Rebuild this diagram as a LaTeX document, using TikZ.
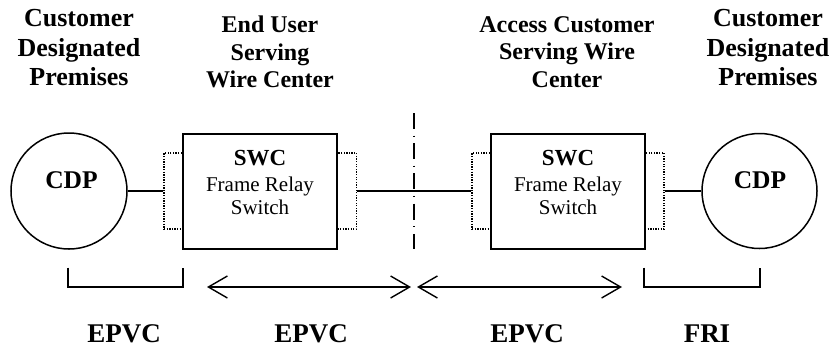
\documentclass[tikz,border=0pt]{standalone}
\usepackage{fontspec}
\setmainfont{Liberation Serif}
\usetikzlibrary{arrows.meta}
\newcommand\swcfont{\fontsize{23}{23.5}\selectfont\bfseries}
\begin{document}
\begin{tikzpicture}[x=1pt,y=-1pt,
  ln/.style={line width=1.5pt},
  circ/.style={circle,draw,line width=1.5pt,inner sep=0pt,minimum size=116pt},
  swbox/.style={rectangle,draw,line width=1.6pt,inner sep=0pt,minimum width=154pt,minimum height=115pt},
  port/.style={rectangle,draw,line width=1.1pt,dash pattern=on 1.3pt off 1.3pt,inner sep=0pt,minimum width=19pt,minimum height=76pt},
  dashdot/.style={line width=1.3pt,dash pattern=on 16pt off 6.5pt on 1.2pt off 6.5pt},
  brk/.style={line width=1.8pt},
  dbl/.style={line width=1.4pt,{Straight Barb[length=19pt,width=22pt]}-{Straight Barb[length=19pt,width=22pt]}},
  lab25/.style={inner sep=0pt,align=center,font=\fontsize{26}{29.5}\selectfont\bfseries},
  lab23/.style={inner sep=0pt,align=center,font=\fontsize{24}{27.5}\selectfont\bfseries},
  boxtxt/.style={inner sep=0pt,align=center,font=\fontsize{21}{23.5}\selectfont},
  cdptxt/.style={inner sep=0pt,font=\fontsize{25.5}{30}\selectfont\bfseries},
  bottxt/.style={inner sep=0pt,font=\fontsize{27}{30}\selectfont\bfseries}]
\useasboundingbox (0,0) rectangle (836,349);

% top labels
\node[lab25,anchor=north] (tCDPL) at (79,9.5) {Customer\\Designated\\Premises};
\node[lab23,anchor=north] (tEU) at (270,16) {End User\\Serving\\Wire Center};
\node[lab23,anchor=north] (tAC) at (567,16) {Access Customer\\Serving Wire\\Center};
\node[lab25,anchor=north] (tCDPR) at (768,9.5) {Customer\\Designated\\Premises};

% circles
\node[circ] (cdpL) at (69,191) {};
\node[circ,minimum size=115pt] (cdpR) at (759.5,191) {};
\node[cdptxt,anchor=base] (cdpLt) at (71.5,188) {CDP};
\node[cdptxt,anchor=base] (cdpRt) at (760,188) {CDP};

% ports
\node[port] (portLL) at (173.5,191) {};
\node[port] (portLR) at (347,191) {};
\node[port] (portRL) at (481.5,191) {};
\node[port] (portRR) at (654.5,191) {};

% switch boxes
\node[swbox] (swcL) at (260,191.5) {};
\node[swbox] (swcR) at (568,191.5) {};
\node[boxtxt,anchor=north] (swcLt) at (260,150.5) {{\swcfont SWC}\\[2pt]Frame Relay\\Switch};
\node[boxtxt,anchor=north] (swcRt) at (568,150.5) {{\swcfont SWC}\\[2pt]Frame Relay\\Switch};

% connectors
\draw[ln] (cdpL.east) -- (portLL.west);
\draw[ln] (portLR.east) -- (portRL.west);
\draw[ln] (portRR.east) -- (cdpR.west);

% demarcation
\coordinate (dtop) at (414,113);
\coordinate (dbot) at (414,249);
\draw[dashdot] (dtop) -- (dbot);

% brackets
\coordinate (bLa) at (68,267.5);
\coordinate (bLb) at (183,267.5);
\coordinate (bRa) at (644,267.5);
\coordinate (bRb) at (760,267.5);
\draw[brk] (bLa) -- ++(0,19.5) -| (bLb);
\draw[brk] (bRa) -- ++(0,19.5) -| (bRb);

% arrows
\coordinate (a1s) at (207,287);
\coordinate (a1e) at (411,287);
\coordinate (a2s) at (417,287);
\coordinate (a2e) at (622,287);
\draw[dbl] (a1s) -- (a1e);
\draw[dbl] (a2s) -- (a2e);

% bottom labels
\node[bottxt,anchor=base] (e1) at (124,342) {EPVC};
\node[bottxt,anchor=base] (e2) at (311,342) {EPVC};
\node[bottxt,anchor=base] (e3) at (527,342) {EPVC};
\node[bottxt,anchor=base] (f1) at (707,342) {FRI};
\end{tikzpicture}
\end{document}
